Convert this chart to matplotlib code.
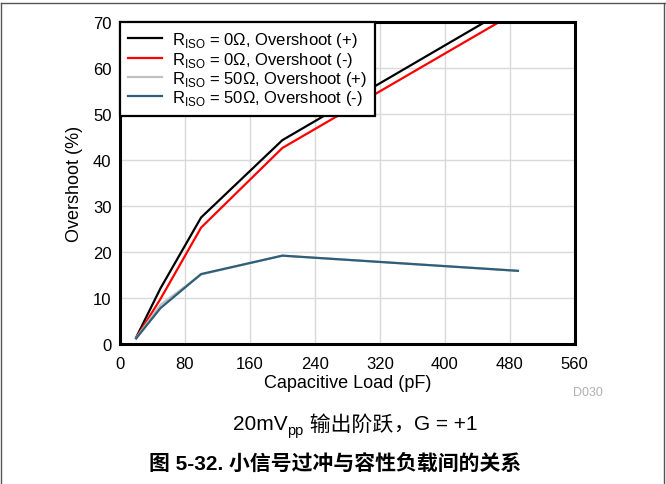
import matplotlib
matplotlib.use("Agg")
import matplotlib.pyplot as plt
from matplotlib.lines import Line2D

plt.rcParams['font.family'] = ['Liberation Sans', 'Noto Sans CJK SC', 'DejaVu Sans']

# data
cap_0 = [20, 50, 100, 200, 470]
os_0_pos = [1.4, 12.1, 27.5, 44.3, 72.1]
os_0_neg = [1.3, 9.8, 25.3, 42.6, 70.3]

cap_50 = [20, 50, 100, 200, 490]
os_50_pos = [1.3, 8.5, 15.1, 19.2, 15.9]
os_50_neg = [1.2, 7.8, 15.2, 19.2, 15.9]

x_ticks = [0, 80, 160, 240, 320, 400, 480, 560]
y_ticks = [0, 10, 20, 30, 40, 50, 60, 70]

fig = plt.figure(figsize=(6.66, 4.85), dpi=100)
ax = fig.add_axes([0.180, 0.2887, 0.683, 0.664])

ax.plot(cap_0, os_0_pos, color='black', lw=1.6, label=r'R$_{\mathregular{ISO}}$ = 0Ω, Overshoot (+)')
ax.plot(cap_0, os_0_neg, color='#ff0000', lw=1.6, label=r'R$_{\mathregular{ISO}}$ = 0Ω, Overshoot (-)')
ax.plot(cap_50, os_50_pos, color='#c0c0c0', lw=1.6, label=r'R$_{\mathregular{ISO}}$ = 50Ω, Overshoot (+)')
ax.plot(cap_50, os_50_neg, color='#2e5f7a', lw=1.6, label=r'R$_{\mathregular{ISO}}$ = 50Ω, Overshoot (-)')

ax.set_xlim(0, 560)
ax.set_ylim(0, 70)
ax.set_xticks(x_ticks)
ax.set_yticks(y_ticks)
ax.tick_params(axis='x', length=0, labelsize=12, pad=9)
ax.tick_params(axis='y', length=0, labelsize=12, pad=6)
ax.grid(True, color='#d9d9d9', lw=1)
ax.set_axisbelow(True)
for s in ax.spines.values():
    s.set_linewidth(2.2)
    s.set_color('black')

ax.set_xlabel('Capacitive Load (pF)', fontsize=13, labelpad=2)
ax.set_ylabel('Overshoot (%)', fontsize=13, labelpad=7)

leg = ax.legend(loc='upper left', fontsize=12, frameon=True, fancybox=False,
                borderaxespad=0, handlelength=2.0, handletextpad=0.6,
                labelspacing=0.02, borderpad=0.5)
leg.get_frame().set_edgecolor('black')
leg.get_frame().set_linewidth(1.6)
leg.get_frame().set_alpha(1)

fig.text(0.883, 0.19, 'D030', fontsize=9, color='#b0b0b0', ha='center', va='center')

# subtitle: 20mV_pp + Chinese text, built from pieces so the CJK font is used
fig.canvas.draw()
r = fig.canvas.get_renderer()
parts = [('20mV', 15, 0, 'normal'), ('pp', 10.5, -6, 'normal'),
         (' 输出阶跃', 15, 0, 'light'), ('，', 15, 0, 'light'), ('G = +1', 15, 0, 'normal')]
widths = []
for s, fs, dy, fw in parts:
    t = fig.text(0, 0, s, fontsize=fs, fontweight=fw)
    widths.append(t.get_window_extent(r).width)
    t.remove()
x = 355 - sum(widths) / 2
for (s, fs, dy, fw), w in zip(parts, widths):
    fig.text(x / 666, (485 - 425 + dy) / 485, s, fontsize=fs, fontweight=fw,
             ha='left', va='center')
    x += w

fig.text(0.5025, 0.043, '图 5-32. 小信号过冲与容性负载间的关系', fontsize=15,
         fontweight='bold', ha='center', va='center')

# outer frame of the figure page
frame_col = '#555555'
fig.add_artist(Line2D([0.002, 0.998], [0.992, 0.992], color=frame_col, lw=1, transform=fig.transFigure))
fig.add_artist(Line2D([0.002, 0.002], [0.0, 0.992], color=frame_col, lw=1, transform=fig.transFigure))
fig.add_artist(Line2D([0.997, 0.997], [0.0, 0.992], color=frame_col, lw=1, transform=fig.transFigure))

fig.savefig('out.png', dpi=100)
